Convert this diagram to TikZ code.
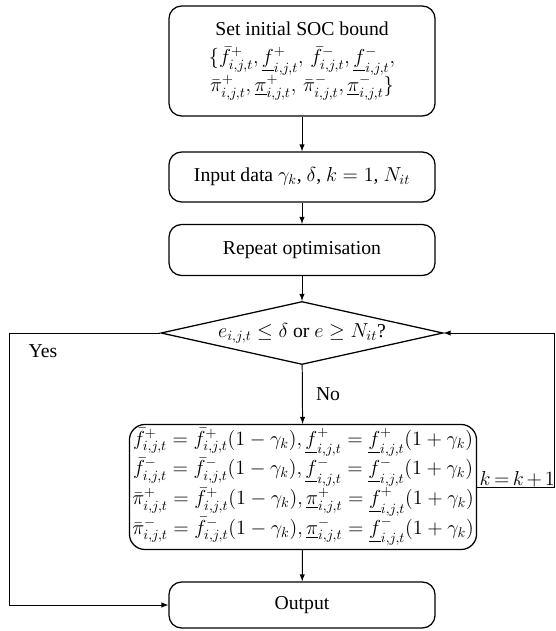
\documentclass[tikz,border=0pt]{standalone}
\usepackage{fontspec}
\setmainfont{Liberation Serif}
\usepackage{amsmath}
\usetikzlibrary{arrows,shapes,calc}
\tikzstyle{block}=[rectangle,draw,rounded corners=9pt,line width=0.9pt,align=center,inner sep=2pt,minimum width=6.65cm,font=\fontsize{14}{20}\selectfont]
\tikzstyle{bigblock}=[block,rounded corners=11pt,minimum width=8.6cm]
\tikzstyle{decision}=[diamond,draw,line width=0.9pt,aspect=4.4,inner sep=0pt,minimum width=7.05cm,minimum height=1.575cm,font=\fontsize{14}{17}\selectfont]
\tikzstyle{edge} = [draw,line width=0.7pt,-latex]
\tikzstyle{line} = [draw,line width=0.7pt]
\tikzstyle{weight} = [font=\fontsize{14}{17}\selectfont]

\begin{document}
\begin{tikzpicture}[x=0.025cm,y=-0.025cm]
    \useasboundingbox (0,0) rectangle (556,631);
    % the steps of the bound update
    \node[block,minimum height=2.75cm] (soc) at (302,61) {Set initial SOC bound\\
      $\{\bar{f}^{+}_{i,j,t},\underline{f}^{+}_{i,j,t},\,\bar{f}^{-}_{i,j,t},\underline{f}^{-}_{i,j,t},$\\
      $\bar{\pi}^{+}_{i,j,t},\underline{\pi}^{+}_{i,j,t},\,\bar{\pi}^{-}_{i,j,t},\underline{\pi}^{-}_{i,j,t}\}$};
    \node[block,minimum height=1.25cm] (inp) at (302,177) {Input data $\gamma_k$, $\delta$, $k=1$, $N_{it}$};
    \node[block,minimum height=1.275cm] (rep) at (302,250) {Repeat optimisation};
    \node[decision] (dec) at (302,333) {$e_{i,j,t}\leq\delta$ or $e\geq N_{it}$?};
    \node[bigblock,minimum height=3.125cm] (upd) at (303,487) {%
      $\bar{f}^{+}_{i,j,t}=\bar{f}^{+}_{i,j,t}(1-\gamma_k),\underline{f}^{+}_{i,j,t}=\underline{f}^{+}_{i,j,t}(1+\gamma_k)$\\
      $\bar{f}^{-}_{i,j,t}=\bar{f}^{-}_{i,j,t}(1-\gamma_k),\underline{f}^{-}_{i,j,t}=\underline{f}^{-}_{i,j,t}(1+\gamma_k)$\\
      $\bar{\pi}^{+}_{i,j,t}=\bar{f}^{+}_{i,j,t}(1-\gamma_k),\underline{\pi}^{+}_{i,j,t}=\underline{f}^{+}_{i,j,t}(1+\gamma_k)$\\
      $\bar{\pi}^{-}_{i,j,t}=\bar{f}^{-}_{i,j,t}(1-\gamma_k),\underline{\pi}^{-}_{i,j,t}=\underline{f}^{-}_{i,j,t}(1+\gamma_k)$};
    \node[block,minimum height=1.15cm] (out) at (302,605) {Output};

    % corners of the two loops
    \coordinate (yes1) at (9,333);
    \coordinate (yes2) at (9,605);
    \coordinate (kk1) at (554,487);
    \coordinate (kk2) at (554,333);

    % Connect steps
    \foreach \source/ \dest in {soc/inp, inp/rep, rep/dec, upd/out}
        \path[edge] (\source) -- (\dest);
    \path[edge] (dec) -- node[weight,right=6pt] {No} (upd);
    \path[line] (dec.west) -- (yes1) -- (yes2);
    \path[edge] (yes2) -- (out.west);
    \path[line] (upd.east) -- (kk1) -- (kk2);
    \path[edge] (kk2) -- (dec.east);

    \node[weight] (yes) at (43,351) {Yes};
    \node[weight,anchor=south west,inner sep=1pt] (kinc) at (478,489)
      {$\thickmuskip=3mu\medmuskip=2.5mu k=k+1$};
\end{tikzpicture}
\end{document}
